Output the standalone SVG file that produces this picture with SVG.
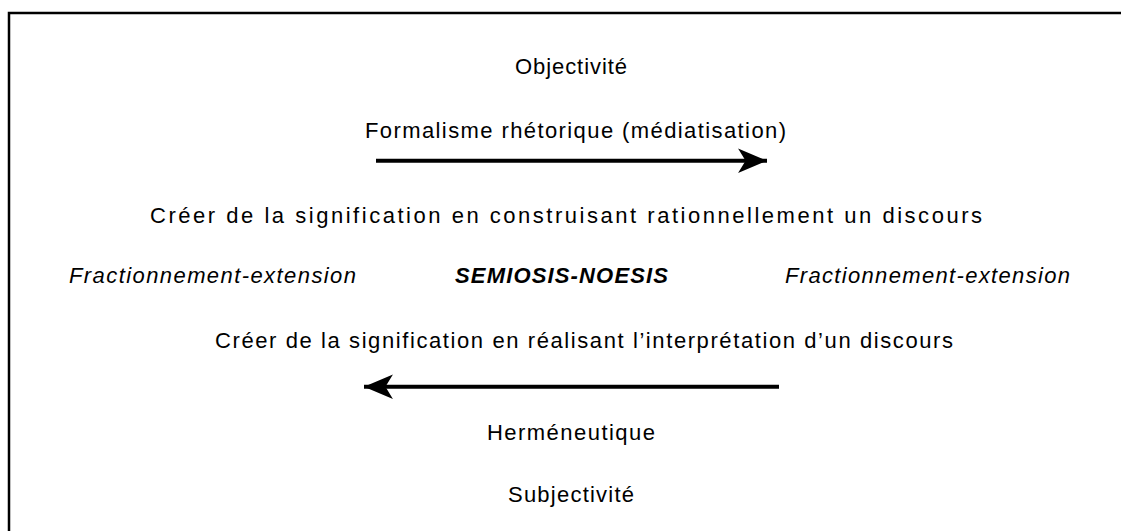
<svg xmlns="http://www.w3.org/2000/svg" width="1121" height="531" viewBox="0 0 1121 531">
<style>
.t{font-family:"Liberation Sans",Arial,sans-serif;font-size:22px;fill:#000;text-anchor:middle}
.i{font-style:italic}
.b{font-weight:bold}
.ln{stroke:#000;stroke-width:4;fill:none}
</style>
<defs>
<marker id="ah" markerUnits="userSpaceOnUse" markerWidth="30" markerHeight="26" viewBox="0 0 28 24" refX="27" refY="12" orient="auto">
<path d="M27 12 L0 0.5 L7 12 L0 23.5 Z" fill="#000"/>
</marker>
</defs>
<rect width="1121" height="531" fill="#fff"/>
<g id="frame"><path d="M9 531 V13 H1121" fill="none" stroke="#000" stroke-width="2.5"/></g>
<g id="objectivite"><text class="t" x="571" y="74" textLength="112" lengthAdjust="spacing">Objectivité</text></g>
<g id="formalisme"><text class="t" x="575.5" y="138" textLength="421" lengthAdjust="spacing">Formalisme rhétorique (médiatisation)</text></g>
<g id="creer1"><text class="t" x="566" y="223" textLength="832" lengthAdjust="spacing">Créer de la signification en construisant rationnellement un discours</text></g>
<g id="frac-left"><text class="t i" x="212.5" y="283" textLength="287" lengthAdjust="spacing">Fractionnement-extension</text></g>
<g id="semiosis"><text class="t i b" x="561.5" y="283" textLength="213" lengthAdjust="spacing">SEMIOSIS-NOESIS</text></g>
<g id="frac-right"><text class="t i" x="927.5" y="283" textLength="285" lengthAdjust="spacing">Fractionnement-extension</text></g>
<g id="creer2"><text class="t" x="584" y="348" textLength="738" lengthAdjust="spacing">Créer de la signification en réalisant l’interprétation d’un discours</text></g>
<g id="hermeneutique"><text class="t" x="571" y="440" textLength="168" lengthAdjust="spacing">Herméneutique</text></g>
<g id="subjectivite"><text class="t" x="571" y="502" textLength="126" lengthAdjust="spacing">Subjectivité</text></g>
<g id="connectors">
<line class="ln" x1="376" y1="160.7" x2="767" y2="160.7" marker-end="url(#ah)"/>
<line class="ln" x1="779" y1="386.7" x2="364" y2="386.7" marker-end="url(#ah)"/>
</g>
</svg>
